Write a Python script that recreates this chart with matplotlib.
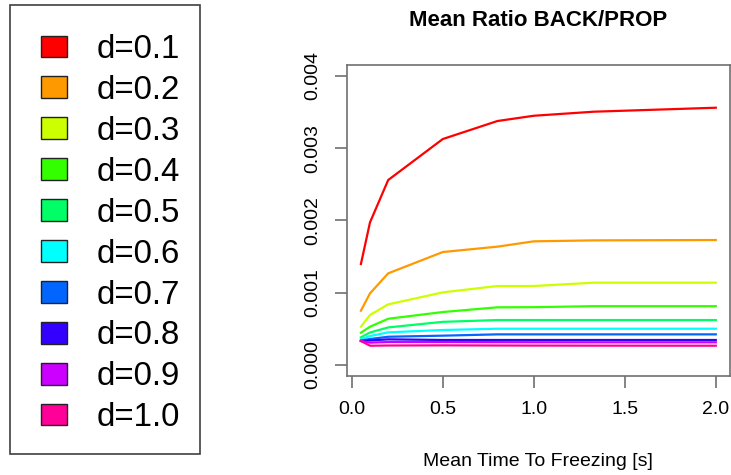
import numpy as np
import matplotlib
matplotlib.use("Agg")
import matplotlib.pyplot as plt
from matplotlib.patches import Patch, Rectangle

plt.rcParams['font.family'] = ['Liberation Sans', 'DejaVu Sans']

# mean time to freezing [s]
times = [0.05, 0.1, 0.2, 0.5, 0.8, 1.0, 1.33, 2.0]

labels = ["d=0.1", "d=0.2", "d=0.3", "d=0.4", "d=0.5",
          "d=0.6", "d=0.7", "d=0.8", "d=0.9", "d=1.0"]
colors = ["#FF0000", "#FF9900", "#CCFF00", "#33FF00", "#00FF66",
          "#00FFFF", "#0066FF", "#3300FF", "#CC00FF", "#FF0099"]

r01 = [0.001397, 0.001973, 0.002559, 0.003126, 0.003375, 0.003448, 0.003504, 0.003559]
r02 = [0.000751, 0.000991, 0.001268, 0.001563, 0.001637, 0.001711, 0.001724, 0.001729]
r03 = [0.000530, 0.000692, 0.000839, 0.001005, 0.001093, 0.001093, 0.001139, 0.001139]
r04 = [0.000447, 0.000530, 0.000640, 0.000733, 0.000798, 0.000800, 0.000814, 0.000814]
r05 = [0.000383, 0.000450, 0.000520, 0.000597, 0.000622, 0.000622, 0.000622, 0.000622]
r06 = [0.000355, 0.000400, 0.000452, 0.000484, 0.000502, 0.000502, 0.000502, 0.000502]
r07 = [0.000336, 0.000360, 0.000391, 0.000406, 0.000424, 0.000424, 0.000424, 0.000424]
r08 = [0.000332, 0.000340, 0.000355, 0.000346, 0.000346, 0.000346, 0.000346, 0.000346]
r09 = [0.000332, 0.000309, 0.000318, 0.000318, 0.000316, 0.000315, 0.000314, 0.000314]
r10 = [0.000332, 0.000267, 0.000270, 0.000272, 0.000270, 0.000269, 0.000268, 0.000267]
ratios = [r01, r02, r03, r04, r05, r06, r07, r08, r09, r10]

W, H = 731, 475
fig = plt.figure(figsize=(W / 100, H / 100), dpi=100)

ax_l, ax_r, ax_t, ax_b = 346.7, 730.0, 65.0, 376.0
ax = fig.add_axes([ax_l / W, 1 - ax_b / H, (ax_r - ax_l) / W, (ax_b - ax_t) / H])

for y, c in zip(ratios, colors):
    ax.plot(times, y, color=c, lw=1.6)

ax.set_xlim(-0.028, 2.078)
ax.set_ylim(-0.000152, 0.00415)
ax.set_xticks([0.0, 0.5, 1.0, 1.5, 2.0])
ax.set_xticklabels(["0.0", "0.5", "1.0", "1.5", "2.0"])
ax.set_yticks([0.0, 0.001, 0.002, 0.003, 0.004])
ax.set_yticklabels(["0.000", "0.001", "0.002", "0.003", "0.004"])

spine_col = "#707070"
for s in ax.spines.values():
    s.set_color(spine_col)
    s.set_linewidth(1.2)
ax.tick_params(length=8.6, width=1.2, color=spine_col, labelsize=14, pad=9.5)
ax.tick_params(axis='y', labelrotation=90)
plt.setp(ax.get_yticklabels(), va='center')

ax.set_title("Mean Ratio BACK/PROP", fontsize=16, fontweight='bold',
             y=(ax_b - 26) / (ax_b - ax_t), va='baseline', pad=0)
ax.set_xlabel("Mean Time To Freezing [s]", fontsize=14)
ax.xaxis.set_label_coords(0.5, -(466 - ax_b) / (ax_b - ax_t))
ax.xaxis.label.set_va('baseline')

# legend box
fig.patches.append(Rectangle((10 / W, 1 - 454 / H), 190 / W, 449 / H,
                             transform=fig.transFigure, fill=False,
                             edgecolor="#404040", lw=1.2))
handles = [Patch(facecolor=c, edgecolor="#222222", lw=1.0) for c in colors]
fig.legend(handles, labels, loc='upper left', frameon=False,
           bbox_to_anchor=(40.7 / W, 1 - 34 / H), borderaxespad=0, borderpad=0,
           fontsize=23.8, handlelength=0.8, handleheight=0.63,
           handletextpad=0.9, labelspacing=0.30)

fig.savefig("out.png", dpi=100)
